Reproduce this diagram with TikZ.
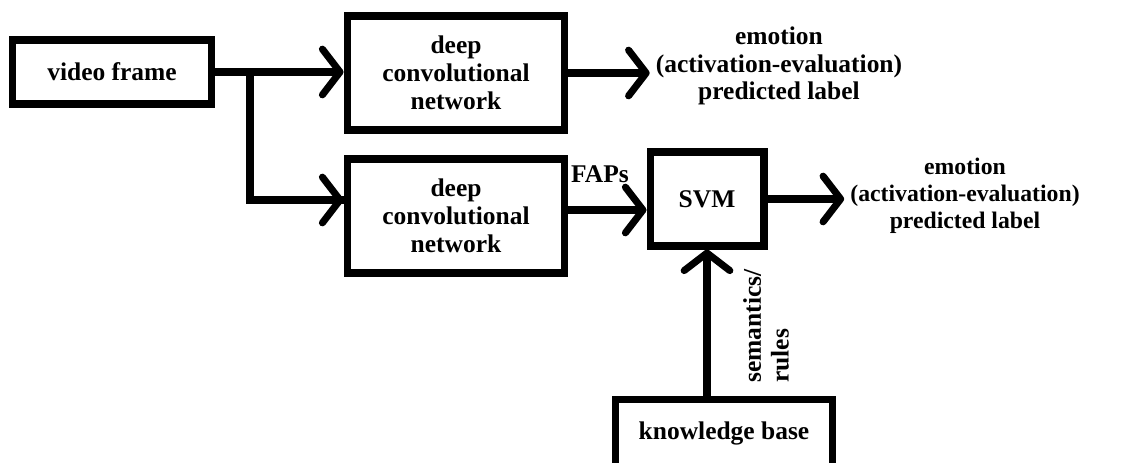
\documentclass[tikz,border=0pt]{standalone}
\usepackage{fontspec}
\setmainfont{Liberation Serif}
\usetikzlibrary{arrows.meta}

\begin{document}
\begin{tikzpicture}[x=0.02cm, y=-0.02cm,
    every node/.style={font=\bfseries\fontsize{14.5}{15.8}\selectfont},
    blk/.style={draw, line width=4pt, inner sep=0pt, align=center},
    lbl/.style={align=center},
    arr/.style={line width=4pt, -{Straight Barb[length=10pt, width=26pt, round]}}]
    %%%%% START %%%%%

    \clip (0, 0) rectangle (1126, 463);

    \node[blk, minimum width=3.98cm, minimum height=1.28cm] (vf) at (112, 72) {video frame};
    \node[blk, minimum width=4.36cm, minimum height=2.28cm] (dcn1) at (456, 73) {deep\\convolutional\\network};
    \node[blk, minimum width=4.36cm, minimum height=2.28cm] (dcn2) at (456, 216) {deep\\convolutional\\network};
    \node[blk, minimum width=2.28cm, minimum height=1.88cm] (svm) at (707, 199) {SVM};
    \node[blk, minimum width=4.34cm, minimum height=1.34cm] (kb) at (724, 433) {knowledge base};

    \node[lbl] (out1) at (779, 66) {emotion\\(activation-evaluation)\\predicted label};
    \node[lbl, font=\bfseries\fontsize{13.5}{15.5}\selectfont] (out2) at (965, 196) {emotion\\(activation-evaluation)\\predicted label};
    \node (faps) at (600, 174) {FAPs};
    \node[rotate=90, align=left] (sem) at (766, 326) {semantics/\\rules};

    \coordinate (fork) at (250, 72);
    \coordinate (in2) at ([yshift=0.32cm]dcn2.west);

    \draw[arr] (vf) -- (vf -| dcn1.west);
    \draw[line width=4pt] (fork) |- (in2);
    \draw[arr] (fork |- in2) -- (in2);
    \draw[arr] (dcn1.east) -- (dcn1.east -| out1.west);
    \draw[arr] ([yshift=0.12cm]dcn2.east) -- ([yshift=0.12cm]dcn2.east -| svm.west);
    \draw[arr] (svm.east) -- (svm.east -| out2.west);
    \draw[arr] (kb.north -| svm.south) -- (svm.south);

    %%%%% END %%%%%
\end{tikzpicture}
\end{document}
